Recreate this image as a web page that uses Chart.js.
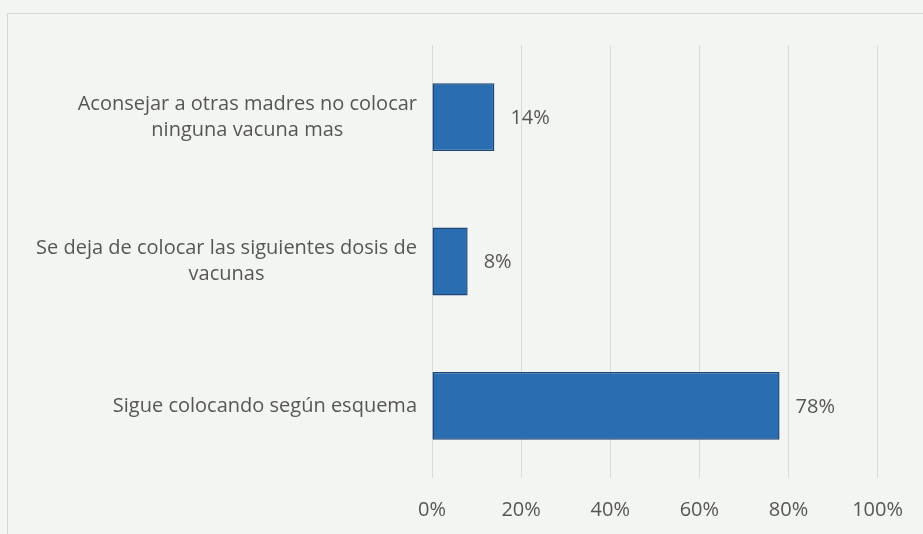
<!DOCTYPE html>
<html lang="es">
<head>
    <meta charset="UTF-8" />
    <title>Vacunas</title>
    <script src="https://cdn.jsdelivr.net/npm/chart.js"></script>
    <style>
        html, body { margin: 0; padding: 0; background: #f3f5f2; }
        #wrap { position: relative; width: 923px; height: 534px; }
        #frame { position: absolute; left: 7px; top: 13px; right: -2px; bottom: -2px;
                 border-top: 1px solid #d4d6d3; border-left: 1px solid #d4d6d3; }
        canvas { position: absolute; left: 0; top: 0; }
    </style>
</head>
<body>
    <div id="wrap">
        <div id="frame"></div>
        <canvas id="chart" width="923" height="534"></canvas>
    </div>

    <script>
        const categories = [
            ["Aconsejar a otras madres no colocar", "ninguna vacuna mas"],
            ["Se deja de colocar las siguientes dosis de", "vacunas"],
            ["Sigue colocando según esquema"]
        ];
        const values = [14, 8, 78];
        const xTicks = [0, 20, 40, 60, 80, 100];

        const FONT = "'Open Sans', sans-serif";
        const SIZE = 20;
        const TEXT = '#565656';

        // draws the category labels: block right-aligned, lines centred inside it
        const categoryLabels = {
            id: 'categoryLabels',
            afterDraw(chart) {
                const ctx = chart.ctx;
                const y = chart.scales.y;
                const right = chart.chartArea.left - 15;
                const lh = 26;
                ctx.save();
                ctx.font = SIZE + 'px ' + FONT;
                ctx.fillStyle = TEXT;
                ctx.textAlign = 'center';
                ctx.textBaseline = 'middle';
                categories.forEach((lines, i) => {
                    const cy = y.getPixelForTick(i);
                    const w = Math.max(...lines.map(l => ctx.measureText(l).width));
                    const cx = right - w / 2;
                    const top = cy - (lines.length - 1) * lh / 2;
                    lines.forEach((l, j) => ctx.fillText(l, cx, top + j * lh));
                });
                ctx.restore();
            }
        };

        // value labels at the end of each bar
        const valueLabels = {
            id: 'valueLabels',
            afterDatasetsDraw(chart) {
                const ctx = chart.ctx;
                const meta = chart.getDatasetMeta(0);
                ctx.save();
                ctx.font = SIZE + 'px ' + FONT;
                ctx.fillStyle = TEXT;
                ctx.textAlign = 'left';
                ctx.textBaseline = 'middle';
                meta.data.forEach((bar, i) => {
                    ctx.fillText(values[i] + '%', bar.x + 16, bar.y + 1);
                });
                ctx.restore();
            }
        };

        const ctx = document.getElementById('chart').getContext('2d');

        new Chart(ctx, {
            type: 'bar',
            data: {
                labels: categories,
                datasets: [{
                    data: values,
                    backgroundColor: '#2a6db0',
                    borderColor: '#1b4675',
                    borderWidth: 1.5,
                    borderSkipped: false,
                    barPercentage: 0.47,
                    categoryPercentage: 1
                }]
            },
            options: {
                indexAxis: 'y',
                responsive: false,
                animation: false,
                layout: { padding: { top: 45, right: 45, left: 0, bottom: 0 } },
                plugins: { legend: { display: false }, tooltip: { enabled: false } },
                scales: {
                    x: {
                        min: 0,
                        max: 100,
                        afterBuildTicks: s => { s.ticks = xTicks.map(v => ({ value: v })); },
                        afterFit: s => { s.height = 56; },
                        border: { display: false },
                        grid: { color: '#d9dbd8', tickLength: 0 },
                        ticks: {
                            padding: 20,
                            color: TEXT,
                            font: { family: FONT, size: SIZE },
                            callback: v => v + '%'
                        }
                    },
                    y: {
                        afterFit: s => { s.width = 432; },
                        border: { display: false },
                        grid: { display: false },
                        ticks: { display: false }
                    }
                }
            },
            plugins: [categoryLabels, valueLabels]
        });
    </script>
</body>
</html>
